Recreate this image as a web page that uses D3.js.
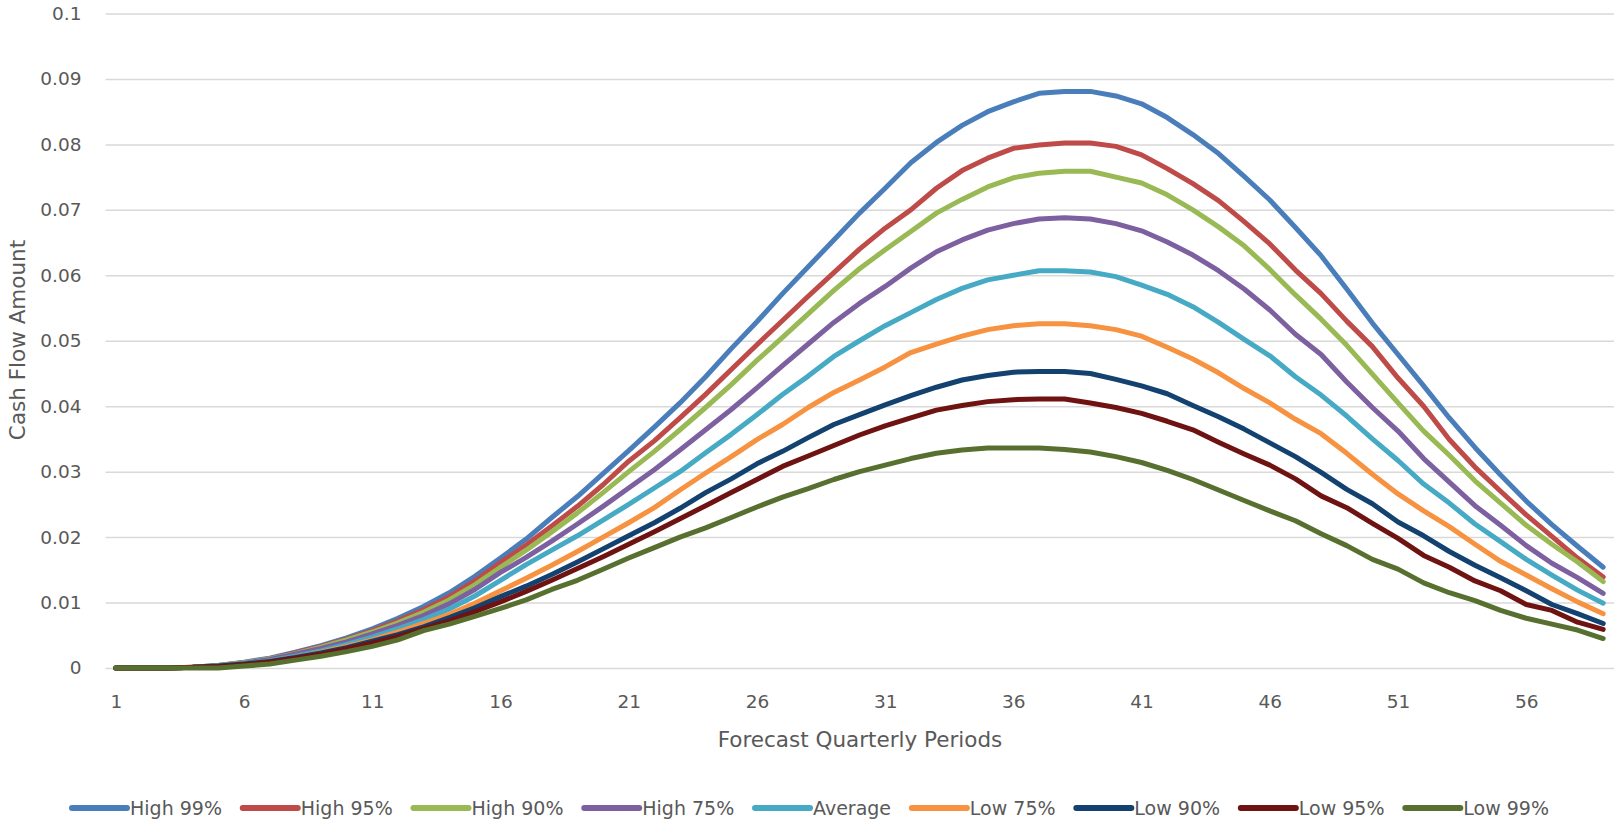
<!DOCTYPE html>
<html><head><meta charset="utf-8">
<script src="https://cdn.jsdelivr.net/npm/d3@7"></script>
<style>html,body{margin:0;padding:0;background:#fff;} svg{display:block;font-family:"DejaVu Sans",sans-serif;}</style>
</head><body><svg id="c" width="1614" height="821"></svg>
<script>
const periods = [1,2,3,4,5,6,7,8,9,10,11,12,13,14,15,16,17,18,19,20,21,22,23,24,25,26,27,28,29,30,31,32,33,34,35,36,37,38,39,40,41,42,43,44,45,46,47,48,49,50,51,52,53,54,55,56,57,58,59];
const xTickLabels = [1,6,11,16,21,26,31,36,41,46,51,56];
const yTickValues = [0,0.01,0.02,0.03,0.04,0.05,0.06,0.07,0.08,0.09,0.1];
const seriesNames = ["High 99%","High 95%","High 90%","High 75%","Average","Low 75%","Low 90%","Low 95%","Low 99%"];
const seriesColors = ["#4A7EBB","#BE4B48","#98B954","#7D60A0","#46AAC5","#F69240","#134170","#6E1212","#58702F"];

const high99 = [0,0,0,0.0001,0.0004,0.0009,0.0015,0.0024,0.0034,0.0046,0.0060,0.0076,0.0094,0.0115,0.0140,0.0168,0.0197,0.0230,0.0262,0.0297,0.0332,0.0368,0.0405,0.0445,0.0488,0.0529,0.0572,0.0613,0.0654,0.0695,0.0733,0.0772,0.0803,0.0829,0.0850,0.0865,0.0878,0.0881,0.0881,0.0874,0.0862,0.0841,0.0815,0.0786,0.0751,0.0715,0.0673,0.0630,0.0579,0.0527,0.0479,0.0431,0.0382,0.0337,0.0295,0.0255,0.0219,0.0186,0.0154];
const high95 = [0,0,0,0.0001,0.0004,0.0008,0.0014,0.0023,0.0033,0.0044,0.0057,0.0072,0.0089,0.0109,0.0133,0.0161,0.0188,0.0217,0.0247,0.0280,0.0316,0.0347,0.0382,0.0418,0.0456,0.0494,0.0531,0.0568,0.0604,0.0640,0.0672,0.0700,0.0733,0.0760,0.0779,0.0794,0.0799,0.0802,0.0802,0.0797,0.0784,0.0763,0.0740,0.0714,0.0682,0.0648,0.0608,0.0572,0.0530,0.0491,0.0443,0.0400,0.0349,0.0307,0.0270,0.0234,0.0201,0.0168,0.0139];
const high90 = [0,0,0,0.0001,0.0004,0.0008,0.0014,0.0022,0.0032,0.0043,0.0055,0.0069,0.0085,0.0104,0.0127,0.0154,0.0180,0.0208,0.0237,0.0268,0.0300,0.0331,0.0364,0.0398,0.0433,0.0470,0.0505,0.0541,0.0577,0.0610,0.0639,0.0667,0.0695,0.0716,0.0735,0.0749,0.0756,0.0759,0.0759,0.0750,0.0741,0.0723,0.0700,0.0674,0.0645,0.0609,0.0570,0.0533,0.0493,0.0449,0.0405,0.0362,0.0325,0.0286,0.0252,0.0218,0.0189,0.0162,0.0132];
const high75 = [0,0,0,0.0001,0.0003,0.0007,0.0013,0.0021,0.0030,0.0040,0.0052,0.0065,0.0080,0.0098,0.0120,0.0146,0.0169,0.0194,0.0220,0.0247,0.0275,0.0303,0.0333,0.0364,0.0395,0.0428,0.0462,0.0495,0.0528,0.0557,0.0583,0.0611,0.0636,0.0654,0.0669,0.0679,0.0686,0.0688,0.0686,0.0679,0.0668,0.0651,0.0631,0.0607,0.0579,0.0547,0.0510,0.0479,0.0437,0.0398,0.0362,0.0320,0.0284,0.0248,0.0218,0.0187,0.0160,0.0138,0.0114];
const average = [0,0,0,0.0001,0.0003,0.0006,0.0011,0.0018,0.0026,0.0036,0.0047,0.0060,0.0074,0.0090,0.0110,0.0134,0.0158,0.0180,0.0202,0.0226,0.0250,0.0275,0.0300,0.0329,0.0357,0.0387,0.0418,0.0446,0.0476,0.0500,0.0523,0.0543,0.0563,0.0580,0.0593,0.0600,0.0607,0.0607,0.0605,0.0598,0.0585,0.0571,0.0552,0.0528,0.0502,0.0477,0.0445,0.0417,0.0385,0.0350,0.0317,0.0281,0.0252,0.0220,0.0193,0.0166,0.0142,0.0119,0.0099];
const low75 = [0,0,0,0.0001,0.0002,0.0005,0.0010,0.0016,0.0024,0.0033,0.0043,0.0055,0.0068,0.0082,0.0099,0.0118,0.0137,0.0157,0.0178,0.0200,0.0222,0.0245,0.0272,0.0298,0.0323,0.0349,0.0372,0.0398,0.0421,0.0440,0.0460,0.0482,0.0495,0.0507,0.0517,0.0523,0.0526,0.0526,0.0523,0.0517,0.0507,0.0490,0.0472,0.0451,0.0427,0.0405,0.0380,0.0358,0.0328,0.0296,0.0266,0.0240,0.0216,0.0189,0.0163,0.0142,0.0121,0.0101,0.0083];
const low90 = [0,0,0,0.0001,0.0003,0.0006,0.0010,0.0016,0.0023,0.0031,0.0041,0.0051,0.0063,0.0077,0.0092,0.0109,0.0125,0.0143,0.0162,0.0182,0.0202,0.0222,0.0244,0.0268,0.0289,0.0312,0.0331,0.0352,0.0372,0.0387,0.0402,0.0416,0.0429,0.0440,0.0447,0.0452,0.0453,0.0453,0.0450,0.0441,0.0431,0.0419,0.0401,0.0384,0.0365,0.0344,0.0323,0.0299,0.0273,0.0251,0.0223,0.0202,0.0178,0.0157,0.0138,0.0118,0.0097,0.0083,0.0068];
const low95 = [0,0,0,0.0001,0.0002,0.0005,0.0009,0.0015,0.0021,0.0029,0.0038,0.0048,0.0060,0.0072,0.0086,0.0101,0.0117,0.0134,0.0152,0.0170,0.0189,0.0208,0.0228,0.0248,0.0268,0.0288,0.0308,0.0324,0.0340,0.0356,0.0370,0.0382,0.0394,0.0401,0.0407,0.0410,0.0411,0.0411,0.0405,0.0398,0.0389,0.0377,0.0364,0.0345,0.0327,0.0310,0.0289,0.0263,0.0245,0.0221,0.0198,0.0172,0.0154,0.0133,0.0118,0.0097,0.0088,0.0070,0.0059];
const low99 = [0,0,0,0,0,0.0003,0.0006,0.0012,0.0018,0.0025,0.0033,0.0043,0.0057,0.0067,0.0079,0.0091,0.0104,0.0120,0.0134,0.0151,0.0168,0.0184,0.0200,0.0214,0.0230,0.0246,0.0261,0.0274,0.0288,0.0300,0.0310,0.0320,0.0328,0.0333,0.0336,0.0336,0.0336,0.0334,0.0330,0.0323,0.0314,0.0302,0.0288,0.0272,0.0256,0.0240,0.0225,0.0205,0.0187,0.0166,0.0151,0.0130,0.0115,0.0103,0.0088,0.0076,0.0067,0.0058,0.0045];

const seriesValues = [high99, high95, high90, high75, average, low75, low90, low95, low99];
const series = seriesNames.map((n, i) => ({name: n, color: seriesColors[i], values: seriesValues[i]}));

const svg = d3.select("#c");
const W = 1614, H = 821;
const textColor = "#595959";
const fontFam = "'DejaVu Sans',sans-serif";

const x = d3.scalePoint().domain(periods).range([103, 1616]).padding(0.5);
const y = d3.scaleLinear().domain([0, 0.1]).range([668, 13.5]);

// gridlines + y axis
const gridLeft = 105.5;
const yAxis = svg.append("g").attr("transform", `translate(${gridLeft},0)`)
  .call(d3.axisLeft(y).tickValues(yTickValues).tickSize(-(W - gridLeft)).tickPadding(24).tickFormat(d => String(d)));
yAxis.select(".domain").remove();
yAxis.selectAll(".tick line").attr("stroke", "#d9d9d9").attr("stroke-width", 1.5);
yAxis.selectAll(".tick text").attr("fill", textColor).style("font-size", "18.5px").style("font-family", fontFam);

// x axis
const xAxis = svg.append("g").attr("transform", `translate(0,668)`)
  .call(d3.axisBottom(x).tickValues(xTickLabels).tickSize(0).tickPadding(0));
xAxis.select(".domain").remove();
xAxis.selectAll(".tick text").attr("fill", textColor).attr("y", 34).attr("dy", "0.35em")
  .style("font-size", "18.5px").style("font-family", fontFam);

// lines
const line = d3.line().x((d, i) => x(periods[i])).y(d => y(d));
svg.append("g").selectAll("path").data(series).join("path")
  .attr("d", s => line(s.values))
  .attr("fill", "none")
  .attr("stroke", s => s.color)
  .attr("stroke-width", 5)
  .attr("stroke-linejoin", "round")
  .attr("stroke-linecap", "round");

// axis titles
svg.append("text").attr("x", 860).attr("y", 739).attr("dy", "0.35em").attr("text-anchor", "middle")
  .attr("fill", textColor).style("font-size", "21.5px").style("font-family", fontFam).text("Forecast Quarterly Periods");
svg.append("text").attr("transform", "translate(17,340) rotate(-90)").attr("dy", "0.35em").attr("text-anchor", "middle")
  .attr("fill", textColor).style("font-size", "21.5px").style("font-family", fontFam).text("Cash Flow Amount");

// legend
const legY = 808, legStart = 72, legEnd = 1549, lineLen = 55, txtGap = 3;
const leg = svg.append("g");
const items = leg.selectAll("g").data(series).join("g");
items.append("line").attr("x1", 0).attr("x2", lineLen).attr("y1", 0).attr("y2", 0)
  .attr("stroke", s => s.color).attr("stroke-width", 6).attr("stroke-linecap", "round");
items.append("text").attr("x", lineLen + txtGap).attr("dy", "0.35em").attr("fill", textColor)
  .style("font-size", "19px").style("font-family", fontFam).text(s => s.name);
const widths = [];
items.each(function() { widths.push(lineLen + txtGap + d3.select(this).select("text").node().getComputedTextLength()); });
const gap = (legEnd - legStart - d3.sum(widths)) / (widths.length - 1);
let cx = legStart;
items.each(function(d, i) { d3.select(this).attr("transform", `translate(${cx},${legY})`); cx += widths[i] + gap; });
</script></body></html>
